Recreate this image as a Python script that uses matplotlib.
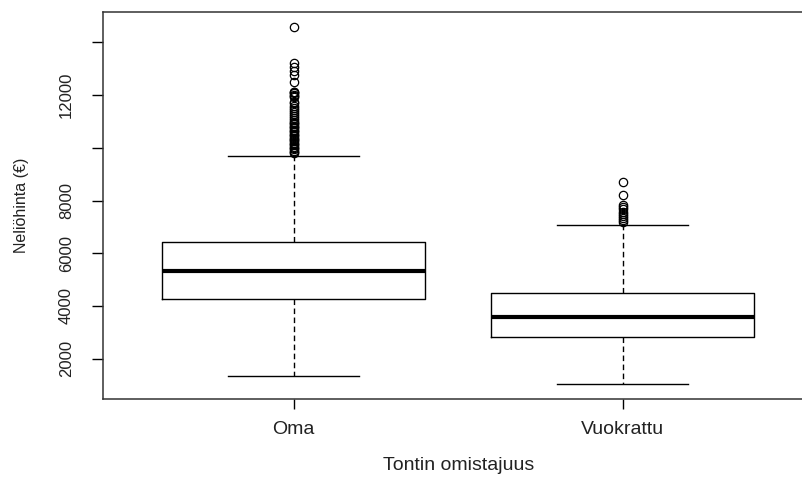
#!/usr/bin/env python3
# Boxplot of price per square metre by plot ownership (own vs. leased land)

import matplotlib.pyplot as plt

plt.rcParams["font.family"] = ["Liberation Sans", "DejaVu Sans"]

groups = ["Oma", "Vuokrattu"]
q1 = [4264, 2812]
med = [5338, 3593]
q3 = [6438, 4503]
whislo = [1344, 1029]
whishi = [9700, 7083]

oma_outliers = [14595, 13227, 13075, 12924, 12761, 12484,
                12130, 12100, 12060, 12020, 11980, 11940,
                11750, 11680, 11600, 11520, 11450, 11370, 11290, 11210,
                11140, 11060, 10990, 10940, 10890, 10840, 10790, 10740,
                10690, 10640, 10590, 10540, 10490, 10440, 10390, 10340,
                10290, 10240, 10190, 10140, 10090, 10040, 9990, 9940,
                9890, 9840, 9800]
vuokrattu_outliers = [8702, 8220, 7820, 7740, 7660, 7580, 7500, 7420,
                      7340, 7260, 7200]
outliers = [oma_outliers, vuokrattu_outliers]

yticks = [2000, 4000, 6000, 8000, 10000, 12000, 14000]
yticklabels = ["2000", "4000", "6000", "8000", "", "12000", ""]

stats = []
for i, g in enumerate(groups):
    stats.append(dict(label=g, q1=q1[i], med=med[i], q3=q3[i],
                      whislo=whislo[i], whishi=whishi[i], fliers=outliers[i]))

fig = plt.figure(figsize=(8.02, 4.79), dpi=100)
# right edge of the frame runs past the figure border
ax = fig.add_axes([0.1284, 0.1676, 0.8857, 0.8067])

ax.bxp(stats, positions=[1, 2], widths=0.8, capwidths=0.4,
       boxprops=dict(lw=1.0, color="black"),
       medianprops=dict(lw=3.0, color="black", solid_capstyle="butt"),
       whiskerprops=dict(lw=1.0, color="black", linestyle=(0, (4, 2.5))),
       capprops=dict(lw=1.0, color="black"),
       flierprops=dict(marker="o", markerfacecolor="none",
                       markeredgecolor="black", markersize=6,
                       markeredgewidth=0.9))

ax.set_xlim(0.42, 2.58)
ax.set_ylim(483, 15138)

ax.set_yticks(yticks)
ax.set_yticklabels(yticklabels, rotation=90, va="center", fontsize=12,
                   color="#222222")
ax.set_xticks([1, 2])
ax.set_xticklabels(groups, fontsize=14, color="#222222")
ax.tick_params(axis="y", length=8, width=1, pad=13)
ax.tick_params(axis="x", length=7, width=1, pad=9)

for s in ax.spines.values():
    s.set_linewidth(1.1)
    s.set_color("#333333")

ax.set_xlabel("Tontin omistajuus", fontsize=14, color="#222222", va="center")
ax.xaxis.set_label_coords(0.5, -0.174)
ax.set_ylabel("Neliöhinta (€)", fontsize=11.5, color="#222222", va="center")
ax.yaxis.set_label_coords(-0.114, 0.5)

fig.savefig("out.png", dpi=100)
